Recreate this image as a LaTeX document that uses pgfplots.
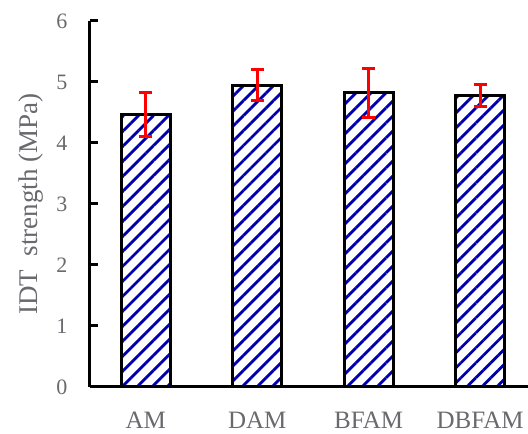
\documentclass[border=0pt]{standalone}
\usepackage{fontspec}
\setmainfont{Liberation Serif}
\usepackage{pgfplots}
\pgfplotsset{compat=1.18}
\usetikzlibrary{patterns.meta}
\definecolor{txtgray}{RGB}{105,105,110}
\definecolor{hatchblue}{RGB}{0,0,170}
\begin{document}
\begin{tikzpicture}
\begin{axis}[
  scale only axis,
  width=438pt, height=366pt,
  xmin=-0.5, xmax=3.43,
  ymin=0, ymax=6,
  axis lines=left,
  axis line style={-, line width=3pt, black},
  xtick={0,1,2,3},
  xticklabels={AM,DAM,BFAM,DBFAM},
  ytick={0,1,2,3,4,5,6},
  tick align=inside,
  major tick length=8pt,
  ytick style={line width=3pt, black},
  xtick style={draw=none},
  /pgf/number format/assume math mode=true,
  ticklabel style={font=\fontsize{22}{24}\selectfont, text=txtgray},
  yticklabel style={xshift=-19pt},
  xticklabel style={font=\fontsize{25}{27}\selectfont, text=txtgray, yshift=-21pt},
  ylabel={IDT\ \ strength (MPa)},
  ylabel style={font=\fontsize{27}{29}\selectfont, text=txtgray},
  ylabel shift=6pt,
  clip=false,
]
\addplot[ybar, bar width=49pt, draw=black, line width=3pt,
  pattern={Lines[angle=45, distance=10.6pt, line width=2.8pt]},
  pattern color=hatchblue,
  error bars/.cd, y dir=both, y explicit,
  error bar style={red, line width=3pt},
  error mark options={rotate=90, mark size=6.5pt, red, line width=3pt}]
coordinates {
  (0,4.46) +- (0,0.36)
  (1,4.95) +- (0,0.26)
  (2,4.82) +- (0,0.40)
  (3,4.78) +- (0,0.18)
};
\end{axis}
\pgfresetboundingbox
\path[use as bounding box] ([shift={(-90pt,-47pt)}]current axis.south west) rectangle ([shift={(0pt,21pt)}]current axis.north east);
\end{tikzpicture}
\end{document}
